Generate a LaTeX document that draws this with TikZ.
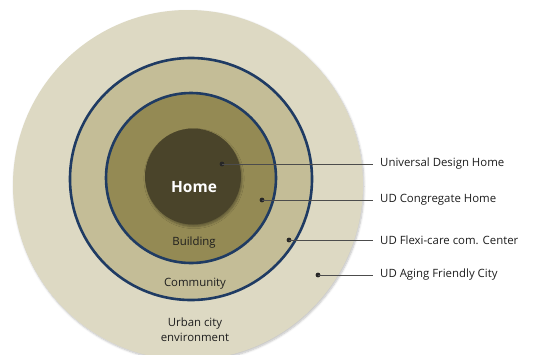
\documentclass[tikz,border=0pt]{standalone}
\usepackage{fontspec}
\setmainfont{Open Sans}
\usetikzlibrary{shadows.blur}

\definecolor{cityfill}{HTML}{DDD9C3}
\definecolor{commfill}{HTML}{C4BD97}
\definecolor{bldgfill}{HTML}{948A54}
\definecolor{homefill}{HTML}{4A442A}
\definecolor{ringblue}{HTML}{1F3B63}
\definecolor{txt}{HTML}{1E1E1E}

\begin{document}
\begin{tikzpicture}[x=1pt,y=-1pt,
  ring/.style={draw=ringblue,line width=2.6pt},
  dot/.style={circle,fill=black!85,inner sep=0pt,minimum size=4.8pt},
  lbl/.style={anchor=west,inner xsep=7pt,inner ysep=0pt,text=txt,font=\fontsize{11.4}{13}\selectfont},
  zone/.style={text=txt,align=center,font=\fontsize{11.4}{15}\selectfont},
  lead/.style={draw=black!70,line width=0.9pt}]

\useasboundingbox (0,0) rectangle (538,354);

\fill [cityfill,blur shadow={shadow xshift=1pt,shadow yshift=-1.5pt,shadow blur steps=6,shadow opacity=25}] (188,185) circle (175pt);
\draw [ring,fill=commfill] (191,179) circle (121pt);
\draw [ring,fill=bldgfill] (191,178) circle (85pt);
\fill [homefill,blur shadow={shadow xshift=1pt,shadow yshift=-2pt,shadow blur steps=6,shadow opacity=35}] (193,176.5) circle (48pt);

\node [text=white,font=\fontsize{15.5}{18}\selectfont\bfseries] (home) at (194,187) {Home};
\node [zone] (bldg) at (194,243) {Building};
\node [zone] (comm) at (195,284) {Community};
\node [zone] (city) at (195,329.5) {Urban city\\environment};

\node [dot] (d1) at (222,164) {};
\node [dot] (d2) at (262,200) {};
\node [dot] (d3) at (289,240) {};
\node [dot] (d4) at (318,275) {};

\node [lbl] (l1) at (373,164) {Universal Design Home};
\node [lbl] (l2) at (373,200) {UD Congregate Home};
\node [lbl] (l3) at (373,240) {UD Flexi-care com. Center};
\node [lbl] (l4) at (373,275) {UD Aging Friendly City};

\draw [lead] (d1.center) -- (l1.west);
\draw [lead] (d2.center) -- (l2.west);
\draw [lead] (d3.center) -- (l3.west);
\draw [lead] (d4.center) -- (l4.west);
\end{tikzpicture}
\end{document}
